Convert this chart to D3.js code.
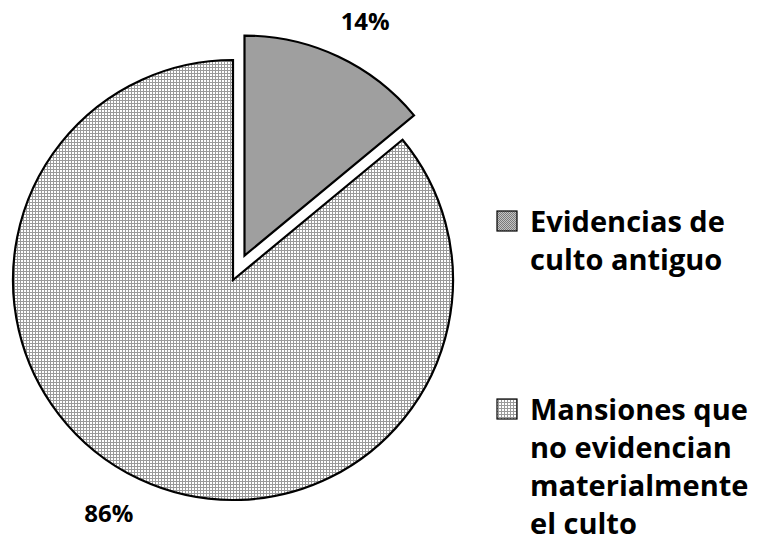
<!DOCTYPE html>
<html>
<head>
<meta charset="utf-8">
<script src="https://cdn.jsdelivr.net/npm/d3@7"></script>
<style>
  body { margin: 0; background: #fff; }
  text { font-family: "Open Sans", Lato, sans-serif; font-weight: 700; fill: #000; }
</style>
</head>
<body>
<svg id="chart"></svg>
<script>
// chart data
const categories = ['Evidencias de culto antiguo', 'Mansiones que no evidencian materialmente el culto'];
const values = [14, 86];
const pctLabels = ['14%', '86%'];
const legendLines = [
  ['Evidencias de', 'culto antiguo'],
  ['Mansiones que', 'no evidencian', 'materialmente', 'el culto']
];

const width = 759, height = 555;
const cx = 233, cy = 280, radius = 220;
const explode = 27;

const svg = d3.select('#chart')
  .attr('width', width)
  .attr('height', height);

// fill patterns, the two slices use different hatch textures
const defs = svg.append('defs');

const p1 = defs.append('pattern')
  .attr('id', 'pat0')
  .attr('patternUnits', 'userSpaceOnUse')
  .attr('width', 2).attr('height', 2);
p1.append('rect').attr('width', 2).attr('height', 2).attr('fill', '#c4c4c4');
p1.append('rect').attr('width', 1).attr('height', 1).attr('fill', '#7a7a7a');
p1.append('rect').attr('x', 1).attr('y', 1).attr('width', 1).attr('height', 1).attr('fill', '#7a7a7a');

const p2 = defs.append('pattern')
  .attr('id', 'pat1')
  .attr('patternUnits', 'userSpaceOnUse')
  .attr('width', 3).attr('height', 3);
p2.append('rect').attr('width', 3).attr('height', 3).attr('fill', '#fff');
p2.append('rect').attr('width', 3).attr('height', 1).attr('fill', '#9a9a9a');
p2.append('rect').attr('width', 1).attr('height', 3).attr('fill', '#9a9a9a');

const pie = d3.pie().sort(null).value(d => d);
const arcs = pie(values);

const arc = d3.arc().innerRadius(0).outerRadius(radius);

const g = svg.append('g')
  .attr('transform', `translate(${cx},${cy})`);

// first slice is pulled out of the pie
const offset = (d, i) => {
  if (i !== 0) return [0, 0];
  const a = (d.startAngle + d.endAngle) / 2;
  return [Math.sin(a) * explode, -Math.cos(a) * explode];
};

g.selectAll('.slice')
  .data(arcs)
  .join('path')
    .attr('class', 'slice')
    .attr('d', arc)
    .attr('transform', (d, i) => `translate(${offset(d, i)})`)
    .attr('fill', (d, i) => `url(#pat${i})`)
    .attr('stroke', '#000')
    .attr('stroke-width', 2.2)
    .attr('stroke-linejoin', 'miter');

// percentage labels outside the slices, nudged a bit like the original
const labelR = radius + 44;
const labelShift = [0.035, 0.05];
const labelAngle = (d, i) => (d.startAngle + d.endAngle) / 2 + labelShift[i];
g.selectAll('.pct')
  .data(arcs)
  .join('text')
    .attr('class', 'pct')
    .attr('x', (d, i) => offset(d, i)[0] + Math.sin(labelAngle(d, i)) * labelR)
    .attr('y', (d, i) => offset(d, i)[1] - Math.cos(labelAngle(d, i)) * labelR)
    .attr('text-anchor', 'middle')
    .attr('dominant-baseline', 'central')
    .style('font-size', '24px')
    .text((d, i) => pctLabels[i]);

// legend
const legendTop = [232, 420];
const lineH = 38;
const legend = svg.append('g');

categories.forEach((c, i) => {
  const item = legend.append('g');
  item.append('rect')
    .attr('x', 497)
    .attr('y', legendTop[i] - 21)
    .attr('width', 20)
    .attr('height', 20)
    .attr('fill', `url(#pat${i})`)
    .attr('stroke', '#000')
    .attr('stroke-width', 1.2);
  item.append('text')
    .attr('x', 530)
    .attr('y', legendTop[i])
    .style('font-size', '29px')
    .selectAll('tspan')
    .data(legendLines[i])
    .join('tspan')
      .attr('x', 530)
      .attr('dy', (d, j) => j === 0 ? 0 : lineH)
      .text(d => d);
});
</script>
</body>
</html>
